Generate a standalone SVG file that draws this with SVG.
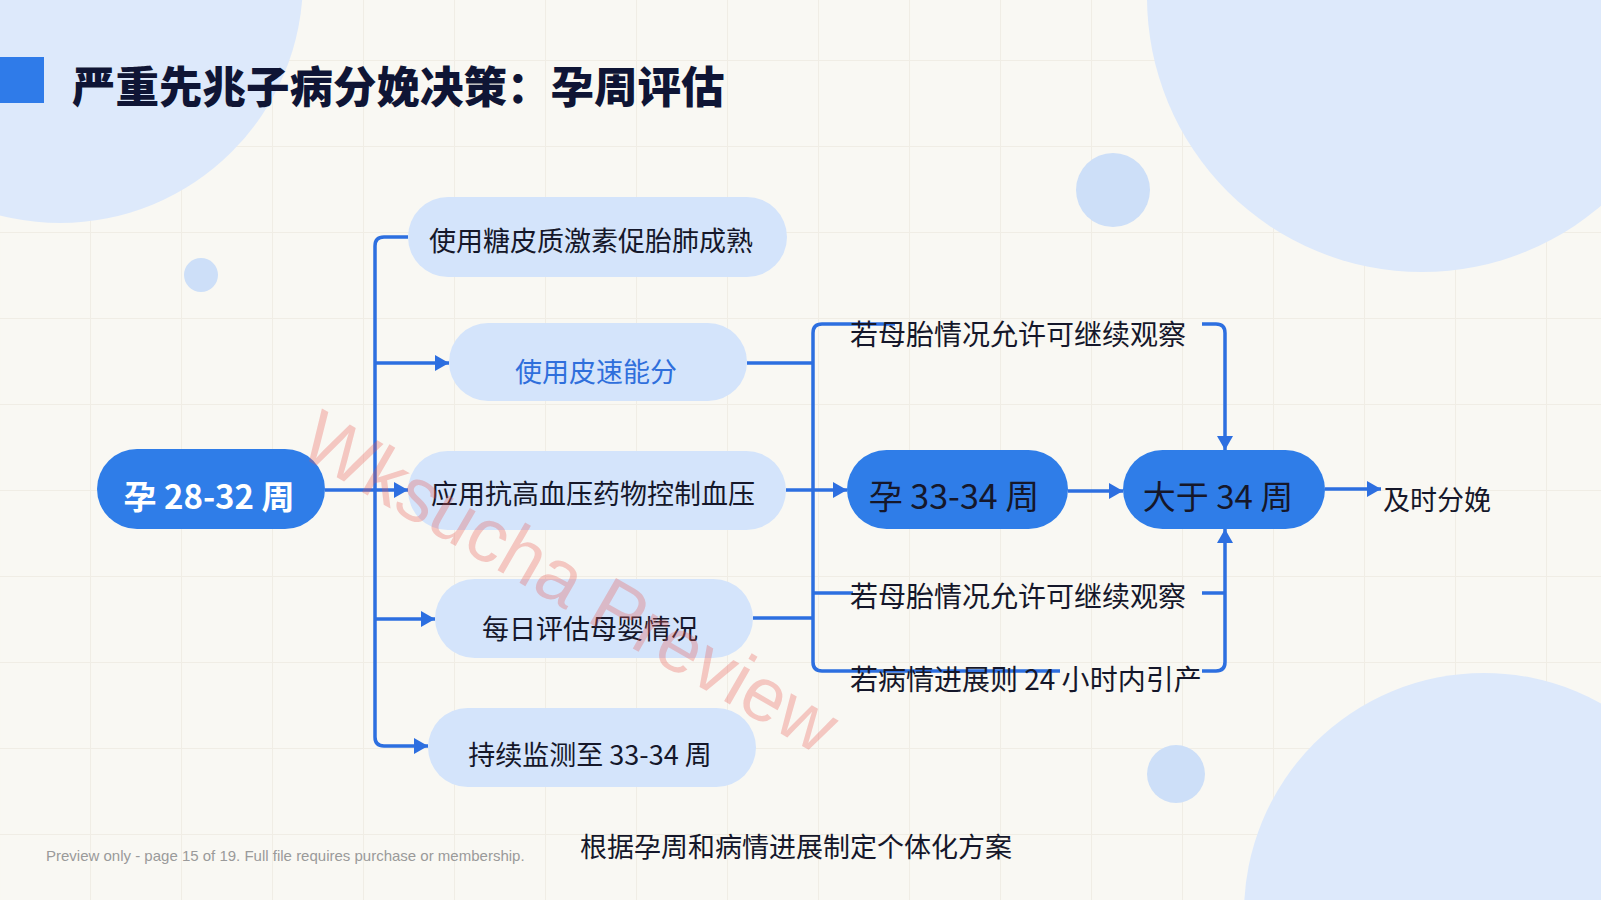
<svg xmlns="http://www.w3.org/2000/svg" width="1601" height="900" viewBox="0 0 1601 900">
<defs>
<style>
.bg{fill:#f9f8f3}
.blob{fill:#dde9fb}
.dot{fill:#cddff8}
.light{fill:#d4e4fb}
.dark{fill:#2f7de8}
.conn{fill:none;stroke:#2d6fe0;stroke-width:3.5;stroke-linejoin:round}
.t{font-family:"Noto Sans CJK SC","Noto Sans",sans-serif;fill:#15172a}
.n{font-size:27px;text-anchor:middle}
.lbl{font-size:28px}
</style>
<pattern id="grid" width="91" height="86" patternUnits="userSpaceOnUse" x="-1" y="-26">
<path d="M0,0.5 H91 M0.5,0 V86" fill="none" stroke="#f0ede5" stroke-width="1.2"/>
</pattern>
<marker id="arr" viewBox="0 0 14 16" refX="14" refY="8" markerWidth="14" markerHeight="16" markerUnits="userSpaceOnUse" orient="auto">
<path d="M0,0 L14,8 L0,16 Z" fill="#2d6fe0"/>
</marker>
</defs>

<g id="background">
<rect class="bg" x="0" y="0" width="1601" height="900"/>
<rect x="0" y="0" width="1601" height="900" fill="url(#grid)"/>
<circle class="blob" cx="60" cy="-20" r="243"/>
<circle class="blob" cx="1422" cy="-3" r="275"/>
<circle class="blob" cx="1484" cy="913" r="240"/>
<circle class="dot" cx="201" cy="275" r="17"/>
<circle class="dot" cx="1113" cy="190" r="37"/>
<circle class="dot" cx="1176" cy="774" r="29"/>
</g>

<g id="title">
<rect x="0" y="57" width="44" height="46" fill="#2f7be9"/>
<text class="t" x="72" y="103" font-size="43.5" font-weight="900" style="fill:#0f1535">严重先兆子病分娩决策：孕周评估</text>
</g>

<g id="connectors">
<path class="conn" d="M408,237 H384 Q375,237 375,246 V737 Q375,746 384,746 H428" marker-end="url(#arr)"/>
<path class="conn" d="M375,363 H449" marker-end="url(#arr)"/>
<path class="conn" d="M325,490 H408" marker-end="url(#arr)"/>
<path class="conn" d="M375,619 H435" marker-end="url(#arr)"/>
<path class="conn" d="M747,363 H813"/>
<path class="conn" d="M753,618 H813"/>
<path class="conn" d="M895,324 H822 Q813,324 813,333 V662 Q813,671 822,671 H1060"/>
<path class="conn" d="M813,593 H853"/>
<path class="conn" d="M786,490 H847" marker-end="url(#arr)"/>
<path class="conn" d="M1068,491 H1123" marker-end="url(#arr)"/>
<path class="conn" d="M1325,489 H1381" marker-end="url(#arr)"/>
<path class="conn" d="M1202,324 H1216 Q1225,324 1225,333 V450" marker-end="url(#arr)"/>
<path class="conn" d="M1202,671 H1216 Q1225,671 1225,662 V529" marker-end="url(#arr)"/>
<path class="conn" d="M1202,593 H1225"/>
</g>

<g id="node-28-32">
<rect class="dark" x="97" y="449" width="228" height="80" rx="40"/>
<text class="t" x="209" y="509" font-size="33" font-weight="700" text-anchor="middle" style="fill:#ffffff">孕 28-32 周</text>
</g>

<g id="node-glucocorticoid">
<rect class="light" x="408" y="197" width="379" height="80" rx="40"/>
<text class="t n" x="591" y="251">使用糖皮质激素促胎肺成熟</text>
</g>

<g id="node-pisuneng">
<rect class="light" x="449" y="323" width="298" height="78" rx="39"/>
<text class="t n" x="596" y="382" style="fill:#2f6fdc">使用皮速能分</text>
</g>

<g id="node-antihypertensive">
<rect class="light" x="408" y="451" width="378" height="79" rx="39.5"/>
<text class="t n" x="593" y="504">应用抗高血压药物控制血压</text>
</g>

<g id="node-daily">
<rect class="light" x="435" y="579" width="318" height="79" rx="39.5"/>
<text class="t n" x="590" y="639">每日评估母婴情况</text>
</g>

<g id="node-monitor">
<rect class="light" x="428" y="708" width="328" height="79" rx="39.5"/>
<text class="t n" x="590" y="765">持续监测至 33-34 周</text>
</g>

<g id="node-33-34">
<rect class="dark" x="847" y="450" width="221" height="79" rx="39.5"/>
<text class="t" x="954" y="509" font-size="34" text-anchor="middle">孕 33-34 周</text>
</g>

<g id="node-gt34">
<rect class="dark" x="1123" y="450" width="202" height="79" rx="39.5"/>
<text class="t" x="1218" y="509" font-size="33" text-anchor="middle">大于 34 周</text>
</g>

<g id="labels">
<text class="t lbl" x="850" y="345">若母胎情况允许可继续观察</text>
<text class="t lbl" x="850" y="607">若母胎情况允许可继续观察</text>
<text class="t lbl" x="850" y="690">若病情进展则 24 小时内引产</text>
<text class="t" x="1383" y="510" font-size="27">及时分娩</text>
</g>

<g id="footer">
<text x="46" y="861" font-family="Liberation Sans, Arial, sans-serif" font-size="15" fill="#9a9a9a">Preview only - page 15 of 19. Full file requires purchase or membership.</text>
<text class="t" x="580" y="857" font-size="27">根据孕周和病情进展制定个体化方案</text>
</g>

<g id="watermark">
<text transform="translate(570,582) rotate(30)" x="0" y="26" text-anchor="middle" font-family="Liberation Sans, Arial, sans-serif" font-size="76" fill="#e8554f" fill-opacity="0.3">Wksucha Preview</text>
</g>
</svg>
